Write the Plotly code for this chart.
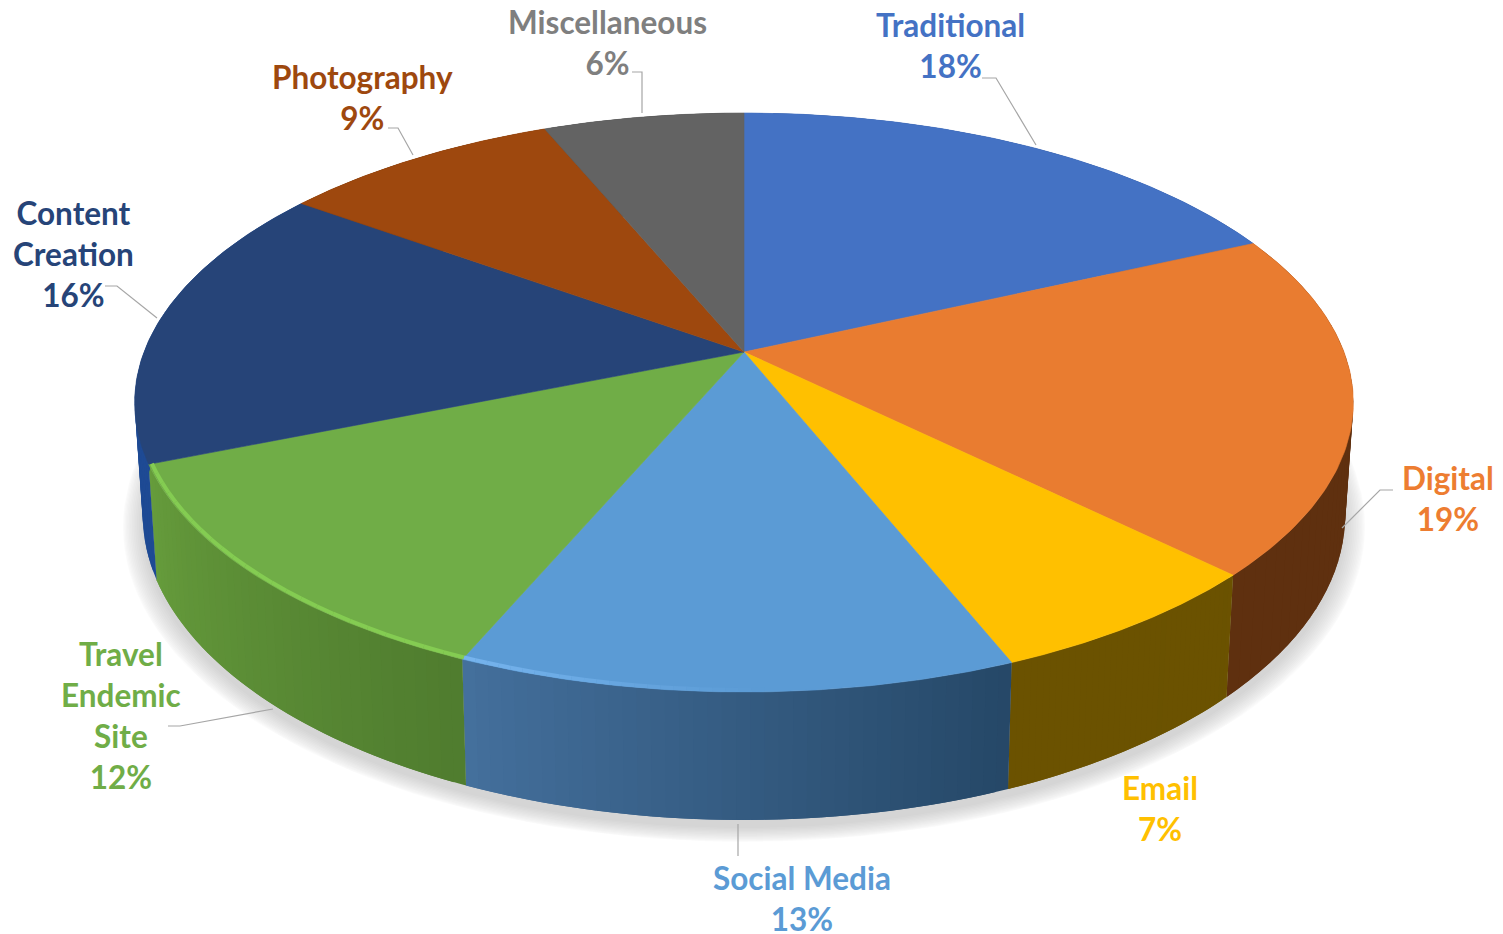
import numpy as np
import plotly.graph_objects as go

categories = ["Traditional", "Digital", "Email", "Social Media", "Travel Endemic Site",
              "Content Creation", "Photography", "Miscellaneous"]
label_lines = [["Traditional"], ["Digital"], ["Email"], ["Social Media"],
               ["Travel", "Endemic", "Site"], ["Content", "Creation"], ["Photography"], ["Miscellaneous"]]
values = [18.2, 19.1, 6.6, 12.55, 12.45, 16.0, 8.8, 6.3]
top_colors = ["#4472C4", "#E97C30", "#FFC000", "#5B9BD5", "#70AD47", "#264478", "#9E480E", "#636363"]
text_colors = ["#4472C4", "#ED7D31", "#FFC000", "#5B9BD5", "#70AD47", "#264478", "#9E480E", "#7F7F7F"]
side_from = ["#2F5597", "#5F300F", "#6B5200", "#44709C", "#669C3C", "#1E4A94", "#6B3009", "#444444"]
side_to = ["#2F5597", "#5F300F", "#6B5200", "#264868", "#507D2F", "#1E4A94", "#6B3009", "#444444"]
label_pos = [(950, 45), (1448, 498), (1160, 808), (802, 898),
             (121, 715.5), (73, 254), (362, 97.5), (607, 42)]
leaders = [[(982, 78), (996, 78), (1036, 145)],
           [(1393, 490), (1380, 490), (1342, 528)],
           [(738, 824), (738, 856)],
           [(168, 726), (180, 726), (273, 709)],
           [(105, 286), (117, 286), (157, 318)],
           [(388, 128), (398, 128), (413, 155)],
           [(632, 72), (642, 72), (642, 113)]]

# Perspective of the disc: plane coordinates (u right, v away) to page pixels
CX, PERSP = 744.0, 0.1744
TOP = dict(a=600.0, q=352.0, p=-219.3)
BOT = dict(a=592.0, q=462.0, p=-215.0)


def project(u, v, lev):
    d = 1 + PERSP * v
    return CX + lev["a"] * u / d, (lev["q"] + lev["p"] * v) / d


def rim(a0, a1, n, lev, k=1.0):
    t = np.linspace(a0, a1, n)
    return project(k * np.sin(t), k * np.cos(t), lev)


def hex_rgb(c):
    return np.array([int(c[i:i + 2], 16) for i in (1, 3, 5)], float)


def mix(c0, c1, f):
    r = hex_rgb(c0) * (1 - f) + hex_rgb(c1) * f
    return "rgb(%d,%d,%d)" % tuple(r)


fig = go.Figure()


def poly(x, y, color, lw=0.0):
    fig.add_trace(go.Scatter(x=list(x), y=list(y), mode="lines", fill="toself", fillcolor=color,
                             line=dict(color=color, width=lw), hoverinfo="skip", showlegend=False))


# soft shadow under the disc
for i in range(14):
    k = 1.032 - 0.032 * (i / 13) ** 1.3
    sx, sy = rim(0, 2 * np.pi, 180, BOT, k)
    poly(sx, sy + 8, "rgba(70,70,70,0.014)")

edges = 2 * np.pi * np.cumsum([0] + values) / sum(values)

# side wall: each step overlaps the next so no seams show
for i in range(len(values)):
    n = 40
    ts = np.linspace(edges[i], edges[i + 1], n + 1)
    for j in range(n):
        seg = ts[j:j + 3]
        x0, y0 = project(np.sin(seg), np.cos(seg), TOP)
        x1, y1 = project(np.sin(seg), np.cos(seg), BOT)
        f = j / (n - 1)
        col = mix(side_to[i], side_from[i], f)
        poly(np.r_[x0, x1[::-1]], np.r_[y0, y1[::-1]], col, 0.0)

# top face
for i in range(len(values)):
    rx, ry = rim(edges[i], edges[i + 1], 90, TOP)
    ax, ay = project(0.0, 0.0, TOP)
    poly(np.r_[ax, rx, ax], np.r_[ay, ry, ay], top_colors[i], 0.6)

# bevel highlight on the front rim, fading towards the right of the blue slice
for i, col, share in [(4, "#84CC52", 1.0), (3, "#76B4EE", 0.55)]:
    a0, a1 = edges[i], edges[i + 1]
    a0 = a1 - (a1 - a0) * share
    ts = np.linspace(a0, a1, 25)
    for j in range(24):
        rx, ry = rim(ts[j], ts[j + 1], 3, TOP, 0.995)
        f = 1.0 if share == 1.0 else j / 23
        c = mix(top_colors[i], col, f)
        fig.add_trace(go.Scatter(x=rx, y=ry, mode="lines", line=dict(color=c, width=4),
                                 hoverinfo="skip", showlegend=False))

# leader lines
for pts in leaders:
    fig.add_trace(go.Scatter(x=[p[0] for p in pts], y=[p[1] for p in pts], mode="lines",
                             line=dict(color="#A6A6A6", width=1.2), hoverinfo="skip", showlegend=False))

# data labels
for i, lines in enumerate(label_lines):
    fig.add_annotation(x=label_pos[i][0], y=label_pos[i][1], xref="x", yref="y",
                       text="<br>".join(lines + [f"{round(values[i])}%"]), showarrow=False,
                       xanchor="center", yanchor="middle", align="center",
                       font=dict(family="Lato", size=31.5, color=text_colors[i], weight="bold"))

fig.update_layout(width=1503, height=934, margin=dict(l=0, r=0, t=0, b=0),
                  paper_bgcolor="white", plot_bgcolor="white", showlegend=False,
                  xaxis=dict(range=[0, 1503], visible=False, fixedrange=True),
                  yaxis=dict(range=[934, 0], visible=False, fixedrange=True))

fig.write_html("out.html", config={"displayModeBar": False},
               post_script="document.body.style.margin='0';document.body.style.overflow='hidden';")
